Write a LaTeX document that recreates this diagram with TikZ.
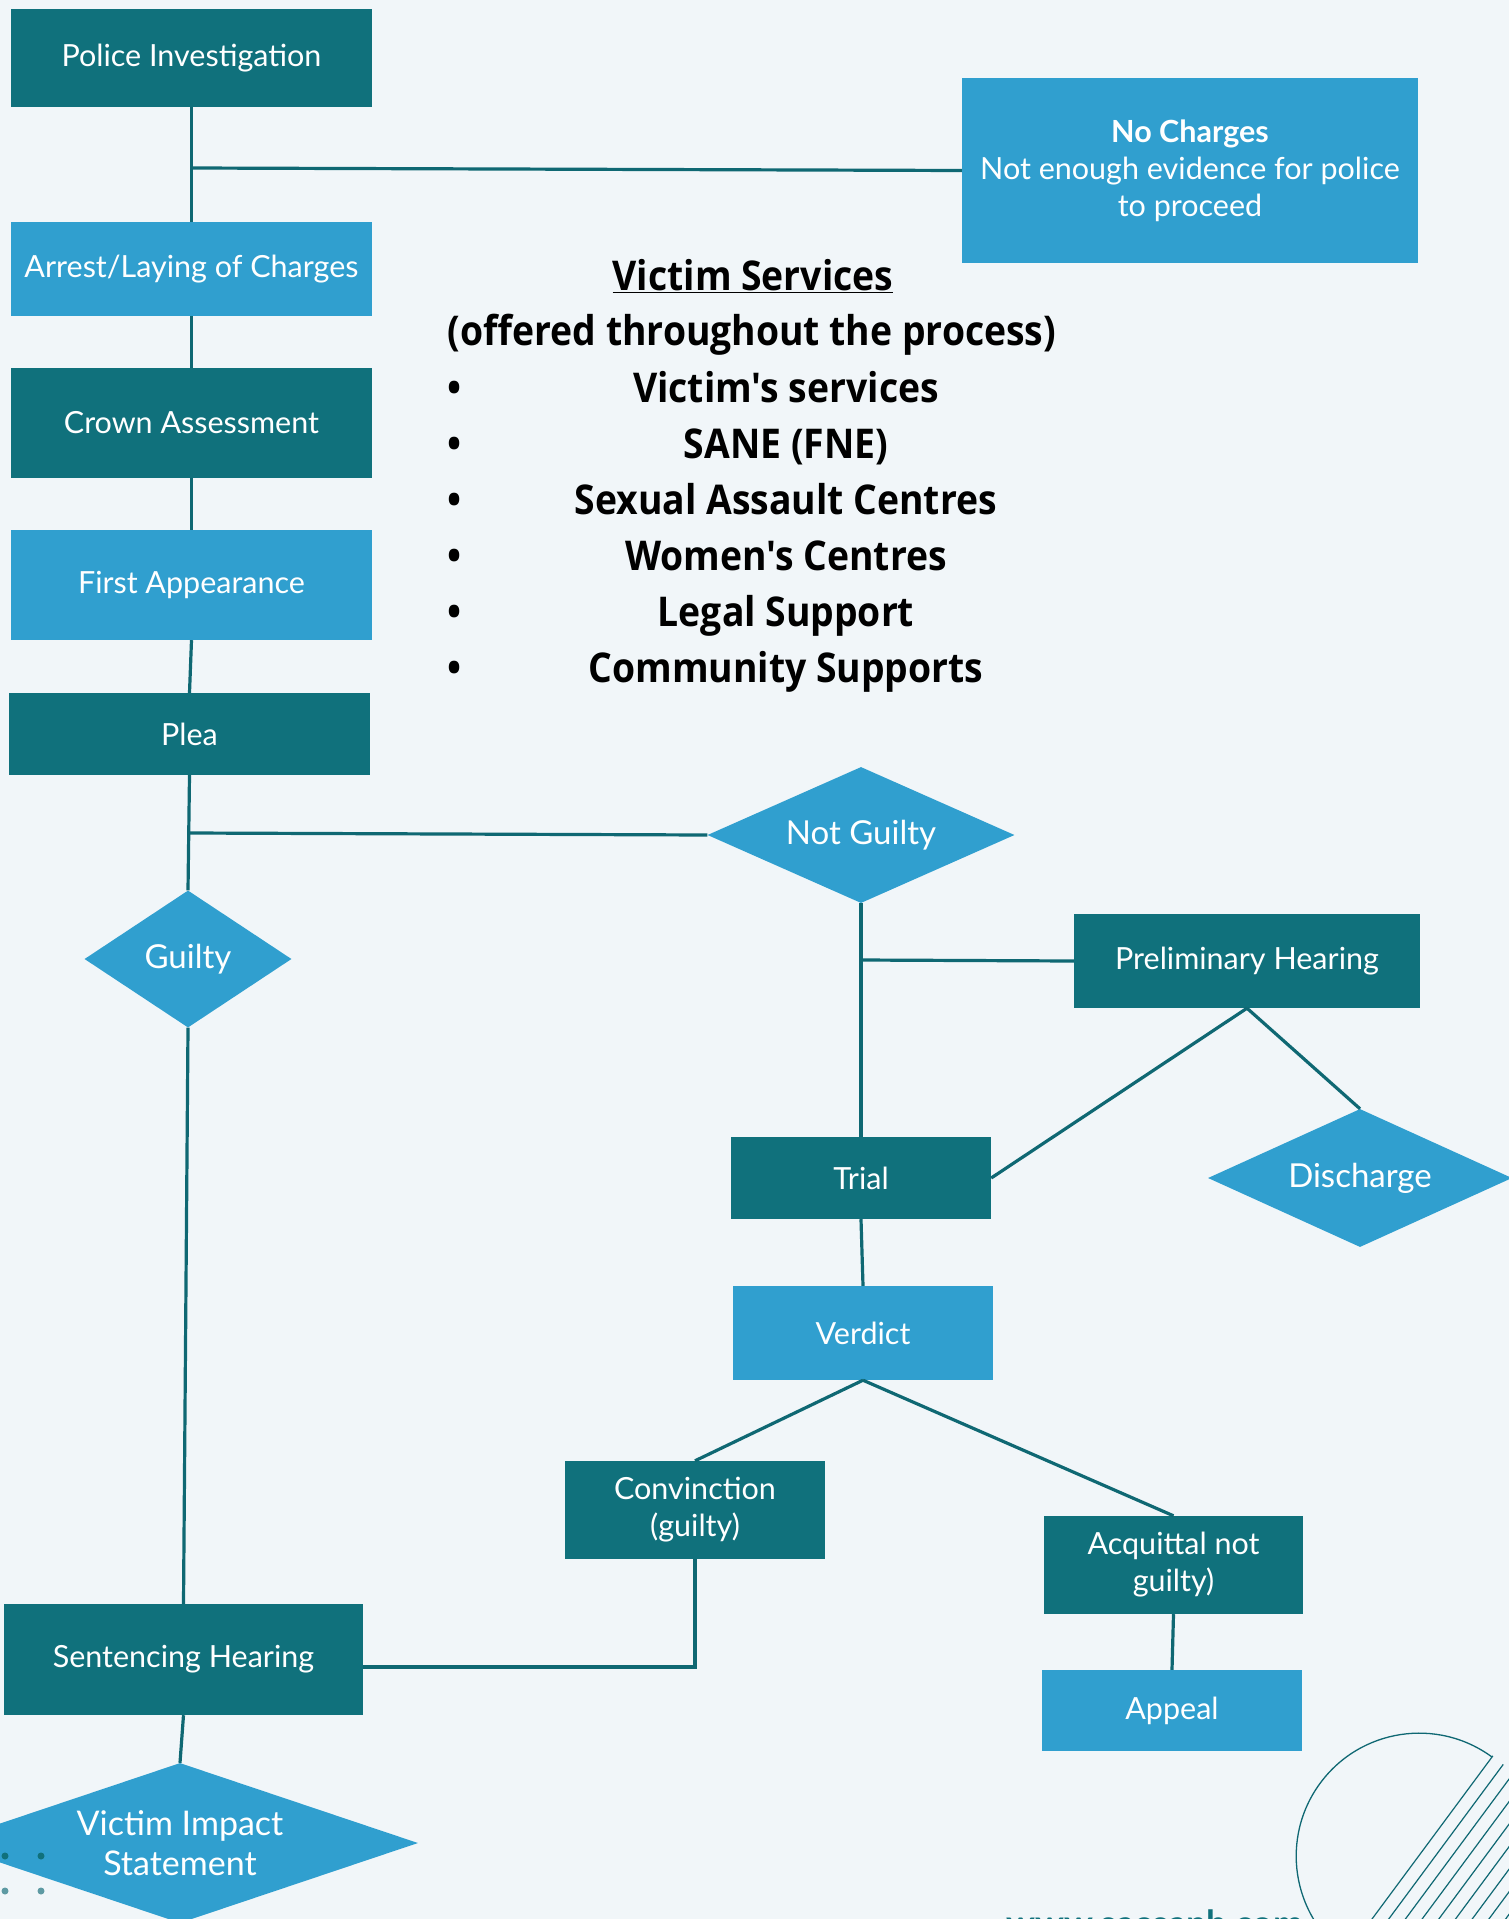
\documentclass[tikz,border=0pt]{standalone}
\usepackage{fontspec}
\setmainfont{Lato}
\newfontfamily\condfont[FakeStretch=0.91]{Open Sans}
\usetikzlibrary{shapes.geometric}
\definecolor{bg}{HTML}{F1F6F9}
\definecolor{dteal}{HTML}{10717C}
\definecolor{lblue}{HTML}{309FCF}
\definecolor{lineteal}{HTML}{0F6873}
\definecolor{dotgray}{HTML}{5E9AA3}
\begin{document}
\begin{tikzpicture}[x=1pt,y=-1pt,
  box/.style={rectangle, inner sep=0pt, text=white, font=\fontsize{30.5}{37}\selectfont, align=center},
  darkbox/.style={box, fill=dteal},
  lightbox/.style={box, fill=lblue},
  dia/.style={diamond, fill=lblue, inner sep=0pt, text=white, font=\fontsize{33}{40}\selectfont, align=center},
  conn/.style={draw=lineteal, line width=3.2pt},
  svc/.style={font=\condfont\bfseries\fontsize{41}{50}\selectfont, anchor=base, inner sep=0pt},
  deco/.style={draw=lineteal, line width=1.3pt}
]
\useasboundingbox (0,0) rectangle (1509,1919);
\clip (0,0) rectangle (1509,1919);
\fill[bg] (0,0) rectangle (1509,1919);

% boxes
\node[darkbox, minimum width=361, minimum height=98] (police) at (191.5,58) {Police Investigation};
\node[lightbox, minimum width=361, minimum height=94] (arrest) at (191.5,269) {Arrest/Laying of Charges};
\node[darkbox, minimum width=361, minimum height=110] (crown) at (191.5,423) {Crown Assessment};
\node[lightbox, minimum width=361, minimum height=110] (first) at (191.5,585) {First Appearance};
\node[darkbox, minimum width=361, minimum height=82] (plea) at (189.5,734) {Plea};
\node[lightbox, minimum width=456, minimum height=185] (nc) at (1190,170.5) {\textbf{No Charges}\\Not enough evidence for police\\to proceed};
\node[darkbox, minimum width=346, minimum height=94] (prelim) at (1247,961) {Preliminary Hearing};
\node[darkbox, minimum width=260, minimum height=82] (trial) at (861,1178) {Trial};
\node[lightbox, minimum width=260, minimum height=94] (verdict) at (863,1333) {Verdict};
\node[darkbox, minimum width=260, minimum height=98] (conv) at (695,1510) {Convinction\\(guilty)};
\node[darkbox, minimum width=259, minimum height=98] (acq) at (1173.5,1565) {Acquittal not\\guilty)};
\node[lightbox, minimum width=260, minimum height=81] (appeal) at (1172,1710.5) {Appeal};
\node[darkbox, minimum width=359, minimum height=111] (sent) at (183.5,1659.5) {Sentencing Hearing};

% diamonds
\node[dia, minimum width=207, minimum height=137, aspect=1.5] (guilty) at (188,959) {Guilty};
\node[dia, minimum width=307, minimum height=136, aspect=2.25] (notguilty) at (861,835) {Not Guilty};
\node[dia, minimum width=304, minimum height=138, aspect=2.2] (discharge) at (1360,1178) {Discharge};
\node[dia, minimum width=476, minimum height=160, aspect=3, font=\fontsize{34}{40}\selectfont] (vis) at (180,1843) {Victim Impact\\Statement};

% connectors
\coordinate (j1) at (191.5,168);
\coordinate (j2) at (190,833);
\coordinate (j3) at (861,960);
\coordinate (j4) at (695,1667);
\draw[conn] (police.south) -- (arrest.north);
\draw[conn] (j1) -- (nc.west);
\draw[conn] (arrest.south) -- (crown.north);
\draw[conn] (crown.south) -- (first.north);
\draw[conn] (first.south) -- (plea.north);
\draw[conn] (plea.south) -- (guilty.north);
\draw[conn] (j2) -- (notguilty.west);
\draw[conn] (guilty.south) -- (sent.north);
\draw[conn] (sent.south) -- (vis.north);
\draw[conn] (notguilty.south) -- (trial.north);
\draw[conn] (j3) -- (prelim.west);
\draw[conn] (prelim.south) -- (trial.east);
\draw[conn] (prelim.south) -- (discharge.north);
\draw[conn] (trial.south) -- (verdict.north);
\draw[conn] (verdict.south) -- (conv.north);
\draw[conn] (verdict.south) -- (acq.north);
\draw[conn] (acq.south) -- (appeal.north);
\draw[conn] (conv.south) -- (j4) -- (j4 -| sent.east);

% victim services text
\node[svc] (vs) at (753,290) {\underline{Victim Services}};
\node[svc] (vsub) at (752,345) {(offered throughout the process)};
\node[svc] (i1) at (786,402) {Victim's services};
\node[svc] (i2) at (786,458) {SANE (FNE)};
\node[svc] (i3) at (786,514) {Sexual Assault Centres};
\node[svc] (i4) at (786,570) {Women's Centres};
\node[svc] (i5) at (786,626) {Legal Support};
\node[svc] (i6) at (786,682) {Community Supports};
\foreach \yy/\nm in {402/b1,458/b2,514/b3,570/b4,626/b5,682/b6}
  \node[svc] (\nm) at (455,\yy) {•};

% decorations
\fill[dteal] (5,1856) circle (3.5);
\fill[dteal] (41,1856) circle (3.5);
\fill[dotgray] (5,1891) circle (3.5);
\fill[dotgray] (41,1891) circle (3.5);

\draw[deco] (1492,1757) arc[start angle=-53.7, end angle=-233.2, radius=123];
\begin{scope}
  \clip (1420,1855) circle (123);
  \foreach \k in {0,...,12}
    \draw[deco, line width=1.2pt] ({1372+16.7*\k-120},{1919+162}) -- ({1372+16.7*\k+240},{1919-324});
\end{scope}

\node[font=\bfseries\fontsize{36}{42}\selectfont, text=dteal, anchor=base west, inner sep=0pt] (url) at (1006,1936) {www.sacsanb.com};
\end{tikzpicture}
\end{document}
